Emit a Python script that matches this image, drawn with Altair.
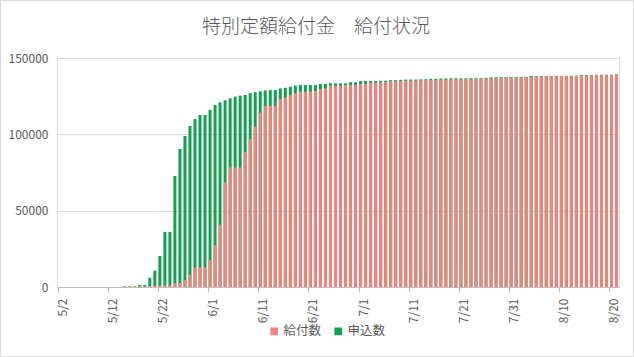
import altair as alt
import pandas as pd

# categories: one bar per day from 5/2 to 8/21
days = pd.date_range("2020-05-02", "2020-08-21", freq="D")
dates = [f"{d.month}/{d.day}" for d in days]

# cumulative applications (申込数)
applied = [
    0, 0, 0, 0, 0, 0, 0, 0, 0, 0, 0, 0, 0,
    400, 400, 500, 1300, 1300, 6100, 10700, 20300, 36100, 36100, 72700,
    90400, 98900, 105500, 110000, 112700, 112700, 116000, 119200, 121000, 122300,
    123600, 124700, 125300, 125800, 127000, 127600, 128200, 128800, 129000, 129000,
    130100, 130500, 131200, 131900, 132300, 132300, 132300, 132300, 133000, 133000,
    133400, 133400, 133400, 133400, 134100, 134100, 134900, 134900, 134900, 134900,
    135100, 135100, 135500, 135500, 135700, 135900, 135900, 135900, 136000, 136100,
    136300, 136300, 136500, 136600, 136700, 136700, 136700, 136700, 136800, 136800,
    136800, 136900, 137300, 137300, 137400, 137400, 137500, 137600, 137600, 137700,
    138200, 138200, 138200, 138200, 138200, 138300, 138300, 138300, 138400, 138400,
    138900, 138900, 138900, 139000, 139000, 139000, 139100, 139300,
]

# cumulative payments (給付数)
paid = [
    0, 0, 0, 0, 0, 0, 0, 0, 0, 0, 0, 0, 0,
    300, 300, 300, 400, 400, 600, 850, 1000, 1000, 1300, 2400,
    2600, 4600, 7900, 12900, 12900, 12900, 17700, 27500, 40800, 68600,
    78400, 78400, 78400, 88200, 96900, 105000, 114300, 118600, 118600, 118600,
    123100, 124000, 125800, 126900, 127800, 127800, 128000, 128400, 129700, 130100,
    131900, 131900, 131900, 132300, 132300, 132300, 133000, 133000, 133800, 133800,
    134200, 134200, 134700, 134700, 135000, 135100, 135100, 135300, 135400, 135500,
    135600, 135600, 135700, 135800, 136000, 136000, 136000, 136100, 136200, 136300,
    136300, 136400, 136600, 136700, 136900, 137000, 137100, 137200, 137200, 137300,
    137500, 137800, 137900, 138000, 138000, 138100, 138100, 138100, 138200, 138200,
    138400, 138500, 138600, 138700, 138700, 138700, 138800, 139000,
]

series = ["給付数", "申込数"]
colors = ["#F3827E", "#13A052"]
tick_dates = ["5/2", "5/12", "5/22", "6/1", "6/11", "6/21", "7/1", "7/11",
              "7/21", "7/31", "8/10", "8/20"]
y_ticks = [0, 50000, 100000, 150000]
title_text = "特別定額給付金　給付状況"

df_app = pd.DataFrame({"date": dates, "value": applied, "系列": series[1]})
df_paid = pd.DataFrame({"date": dates, "value": paid, "系列": series[0]})

FONT = "Noto Sans CJK JP"
GRAY = "#595959"

x_enc = alt.X(
    "date:O",
    sort=dates,
    scale=alt.Scale(domain=dates, paddingInner=0.4, paddingOuter=0.2),
    axis=alt.Axis(
        title=None,
        values=tick_dates,
        labelAngle=-90,
        bandPosition=0,
        labelOffset=3,
        tickSize=5,
        tickColor="#BFBFBF",
        domainColor="#BFBFBF",
        labelColor=GRAY,
        labelFontSize=12,
        labelFont=FONT,
        labelPadding=6,
    ),
)
y_enc = alt.Y(
    "value:Q",
    scale=alt.Scale(domain=[0, 150000], nice=False),
    axis=alt.Axis(
        title=None,
        values=y_ticks,
        format="d",
        ticks=False,
        domain=False,
        gridColor="#D9D9D9",
        labelColor=GRAY,
        labelFontSize=12,
        labelFont=FONT,
        labelPadding=9,
    ),
)
color_enc = alt.Color(
    "系列:N",
    scale=alt.Scale(domain=series, range=colors),
    legend=alt.Legend(
        title=None,
        orient="none",
        direction="horizontal",
        legendX=211,
        legendY=267,
        symbolType="square",
        symbolSize=60,
        symbolStrokeWidth=0,
        labelFontSize=12.5,
        labelFont=FONT,
        labelColor=GRAY,
        labelOffset=3,
        columnPadding=10,
    ),
)

app_bars = alt.Chart(df_app).mark_bar().encode(x=x_enc, y=y_enc, color=color_enc)
paid_bars = alt.Chart(df_paid).mark_bar().encode(x=x_enc, y=y_enc, color=color_enc)

title = alt.Chart(pd.DataFrame({"t": [title_text]})).mark_text(
    font=FONT, fontSize=19, fontWeight=300, color=GRAY, align="center",
    baseline="middle", clip=False
).encode(text="t:N", x=alt.value(259), y=alt.value(-31))

frame = alt.Chart(pd.DataFrame({"a": [0]})).mark_rect(
    fill=None, stroke="#D9D9D9", strokeWidth=1, clip=False
).encode(
    x=alt.value(-56.5), x2=alt.value(576.5), y=alt.value(-57.5), y2=alt.value(298.5)
)

chart = alt.layer(app_bars, paid_bars, title, frame).properties(
    width=562,
    height=229,
    autosize=alt.AutoSizeParams(type="none"),
    padding={"left": 57, "top": 58, "right": 15, "bottom": 70},
).configure_view(stroke=None).configure(background="white")

chart.save("out.html", embed_options={"renderer": "svg", "actions": False})
